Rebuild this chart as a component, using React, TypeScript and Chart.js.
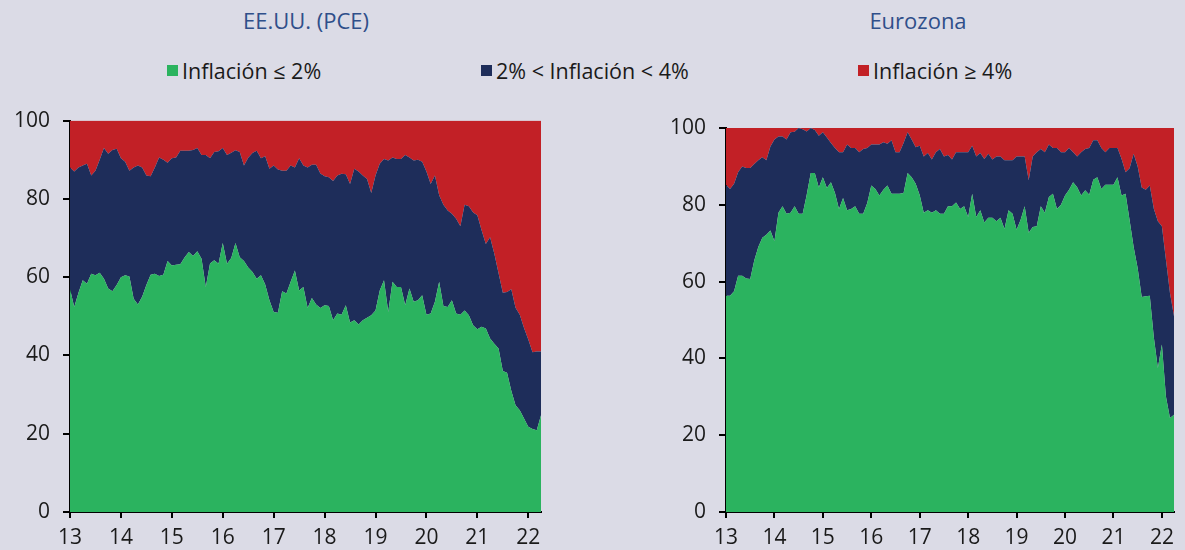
import React, { useEffect, useRef } from "react";
import { Chart, registerables } from "chart.js";

Chart.register(...registerables);

const FONT = "'Open Sans', 'Noto Sans', sans-serif";
const BG = "#dbdbe6";
const GREEN = "#2bb35f";
const NAVY = "#1e2d5a";
const RED = "#c22026";
const TITLE_COLOR = "#2f4f8a";
const TEXT_COLOR = "#1a1a1a";

// Monthly data, Jan 2013 .. Apr 2022 (x = two-digit year + month/12)
const startYear = 13;
const yearTicks = [13, 14, 15, 16, 17, 18, 19, 20, 21, 22];
const valueTicks = [0, 20, 40, 60, 80, 100];

const seriesNames = ["Inflación ≤ 2%", "2% < Inflación < 4%", "Inflación ≥ 4%"];
const chartTitles = ["EE.UU. (PCE)", "Eurozona"];

// % of components with inflation <= 2% (cumulative boundary)
const usUpTo2 = [
  57, 52.4, 56, 59.2, 58.3, 60.9, 60.5, 61.1, 59.6, 57.1,
  56.4, 58, 60, 60.5, 60.2, 54.5, 53, 55, 58, 60.6,
  60.9, 60.3, 60.6, 64.1, 63, 63.2, 63.3, 65, 66.4, 65.4,
  66.6, 64.7, 57.5, 63.5, 64.3, 63.4, 68.7, 63.4, 64.9, 68.7,
  65.1, 64.1, 62.5, 61.3, 59.6, 60.5, 58.1, 54.1, 51.1, 50.9,
  56.4, 55.8, 58.8, 61.7, 56.6, 57.5, 52.1, 54.7, 53, 52.1,
  52.8, 52.6, 49, 50.7, 50.4, 52.8, 48.4, 49, 47.9, 49,
  49.6, 50.3, 51.5, 56.6, 59.2, 51.1, 58.8, 57.5, 57.5, 52.8,
  57.1, 53.7, 54.1, 55.4, 50.4, 50.7, 53.7, 58.8, 52.6, 52.4,
  54.1, 50.7, 50.4, 51.5, 50.3, 47.7, 46.7, 47.3, 46.9, 44.3,
  43, 41.8, 36, 35.6, 31, 27.3, 26, 23.9, 21.8, 21.2, 20.9, 24.7,
];
// % of components with inflation < 4% (cumulative boundary)
const usUpTo4 = [
  88, 87, 88, 88.5, 89, 86, 87.2, 90, 93, 91.5,
  92.5, 92.8, 90.4, 89.5, 87.2, 88, 88.5, 88, 86, 85.8,
  88, 90.6, 90, 89.2, 90.4, 90.6, 92.3, 92.3, 92.3, 92.5,
  93, 91.2, 91.2, 90.4, 92, 92.2, 93, 91.2, 91.8, 92.4,
  92, 88.5, 90.5, 91.7, 92.3, 90.4, 90.9, 87.7, 88.5, 87.5,
  87.2, 87.2, 88.5, 88, 90.4, 88.5, 88, 88.7, 88.7, 86.5,
  85.8, 85.5, 84.6, 86, 86.4, 86.3, 83.8, 87.7, 87, 86,
  85.1, 81.5, 86, 89, 90.2, 89.8, 90.6, 90.2, 90.2, 91.2,
  90.6, 89.8, 90, 89.5, 87, 83.8, 86, 80.9, 78.5, 77,
  76.2, 74.9, 73, 78.5, 78.1, 76.5, 75.8, 72, 68.5, 70.2,
  66, 61, 56, 56.2, 56.9, 52.2, 50.4, 47, 44.1, 40.8, 41, 41,
];
const ezUpTo2 = [
  56.3, 56.3, 57.5, 61.5, 61.5, 60.8, 60.7, 65.5, 69, 71.4,
  72.2, 73.3, 70.5, 77.9, 79.6, 77.7, 77.9, 79.6, 77.7, 77.7,
  82.6, 88.3, 88.3, 84.5, 87.2, 84.4, 85.9, 83.1, 78.9, 81.8,
  78.6, 78.9, 79.6, 77.7, 77.7, 80.5, 85, 84.1, 82.4, 83.9,
  85, 82.9, 82.9, 82.9, 83.1, 88.3, 87.2, 85.5, 82.5, 77.9,
  78.6, 77.9, 78.6, 77.7, 77.7, 79.6, 79.6, 80.6, 78.9, 79.6,
  76.8, 82.9, 76.8, 78.6, 75.4, 76.6, 76.6, 75.7, 76.6, 73.7,
  78.6, 77.7, 73.5, 76.1, 79.6, 72.7, 74.2, 74.4, 79.6, 77.9,
  82, 82.9, 78.9, 80, 82.4, 83.9, 85.9, 84.6, 82.4, 83.8,
  82.6, 86.5, 87.2, 84.1, 85.2, 85.2, 85.2, 87.2, 82.4, 82.9,
  76, 69, 63.5, 56, 56.2, 56.3, 45.5, 37.5, 43.6, 30.1, 24.5, 25.3,
];
const ezUpTo4 = [
  85.2, 84.1, 85.5, 88.5, 90, 89.6, 89.6, 90.6, 91.6, 92.4,
  91.6, 95.2, 97, 97.8, 97.8, 97, 98.9, 99, 100, 99.7,
  99.1, 100, 99.5, 98, 98.9, 97.5, 96.1, 94.8, 93.7, 93.7,
  95.7, 94.8, 94.8, 93.7, 94.5, 94.8, 95.7, 95.7, 95.7, 96.3,
  95.9, 96.8, 93.7, 93.7, 96.1, 98.9, 97, 95, 95.4, 92.6,
  93.5, 91.8, 93.7, 94.5, 92.6, 93, 91.8, 93.7, 93.7, 93.7,
  93.7, 95.4, 92.6, 93.5, 91.9, 93.3, 91.8, 92.6, 92.6, 91.6,
  91.6, 91.6, 92.6, 92.6, 92.6, 86.4, 92.6, 93.7, 94.5, 93.7,
  95.7, 94.8, 94.8, 93.7, 93.7, 94.8, 93.7, 92.6, 93.7, 94.5,
  94.8, 96.8, 96.8, 94.8, 93.7, 94.8, 94.8, 94.8, 92, 88.5,
  89.5, 93.3, 90, 84.5, 83.9, 85, 79, 75.7, 74.4, 65.7, 57, 51,
];

type PanelProps = {
  left: number;
  top: number;
  width: number;
  height: number;
  yAxisWidth: number;
  padTop: number;
  padRight: number;
  upTo2: number[];
  upTo4: number[];
};

function AreaPanel(p: PanelProps) {
  const ref = useRef<HTMLCanvasElement>(null);
  useEffect(() => {
    const xs = p.upTo2.map((_, i) => startYear + i / 12);
    const pts = (arr: number[]) => arr.map((v, i) => ({ x: xs[i], y: v }));
    const common = { borderWidth: 0, pointRadius: 0, tension: 0 };
    const tickFont = { family: FONT, size: 21 };
    const chart = new Chart(ref.current as HTMLCanvasElement, {
      type: "line",
      data: {
        datasets: [
          { label: seriesNames[0], data: pts(p.upTo2), fill: "origin", backgroundColor: GREEN, borderColor: GREEN, ...common },
          { label: seriesNames[1], data: pts(p.upTo4), fill: 0, backgroundColor: NAVY, borderColor: NAVY, ...common },
          { label: seriesNames[2], data: pts(p.upTo4), fill: "end", backgroundColor: RED, borderColor: RED, ...common },
        ],
      },
      options: {
        animation: false,
        responsive: false,
        events: [],
        layout: { padding: { top: p.padTop, right: p.padRight, left: 0, bottom: 0 } },
        plugins: { legend: { display: false }, title: { display: false }, tooltip: { enabled: false } },
        scales: {
          x: {
            type: "linear",
            min: yearTicks[0],
            max: xs[xs.length - 1],
            afterFit: (s: any) => { s.height = 38; },
            afterBuildTicks: (s: any) => { s.ticks = yearTicks.map((v) => ({ value: v })); },
            ticks: { font: tickFont, color: TEXT_COLOR, padding: 7, maxRotation: 0, autoSkip: false, callback: (v: any) => String(v) },
            grid: { display: true, drawOnChartArea: false, drawTicks: true, tickLength: 6, color: "#000", lineWidth: 2 },
            border: { display: true, color: "#000", width: 2 },
          },
          y: {
            min: 0,
            max: 100,
            afterFit: (s: any) => { s.width = p.yAxisWidth; },
            afterBuildTicks: (s: any) => { s.ticks = valueTicks.map((v) => ({ value: v })); },
            ticks: { font: tickFont, color: TEXT_COLOR, padding: 13, callback: (v: any) => String(v) },
            grid: { display: true, drawOnChartArea: false, drawTicks: true, tickLength: 7, color: "#000", lineWidth: 2 },
            border: { display: true, color: "#000", width: 2 },
          },
        },
      } as any,
    });
    return () => chart.destroy();
  }, []);
  return (
    <canvas
      ref={ref}
      width={p.width}
      height={p.height}
      style={{ position: "absolute", left: p.left, top: p.top, width: p.width, height: p.height }}
    />
  );
}

const legendColors = [GREEN, NAVY, RED];
const legendBoxLeft = [167, 481, 858];

export default function App() {
  const titleStyle = (center: number): React.CSSProperties => ({
    position: "absolute",
    left: center - 200,
    width: 400,
    top: 6,
    textAlign: "center",
    fontFamily: FONT,
    fontSize: 22,
    lineHeight: "28px",
    color: TITLE_COLOR,
  });
  return (
    <div style={{ position: "absolute", left: 0, top: 0, width: 1185, height: 550, background: BG, overflow: "hidden" }}>
      <div style={titleStyle(306)}>{chartTitles[0]}</div>
      <div style={titleStyle(918)}>{chartTitles[1]}</div>
      {seriesNames.map((name, i) => (
        <div
          key={name}
          style={{
            position: "absolute",
            left: legendBoxLeft[i],
            top: 56,
            height: 28,
            display: "flex",
            alignItems: "center",
            fontFamily: FONT,
            fontSize: 21.5,
            color: TEXT_COLOR,
            whiteSpace: "nowrap",
          }}
        >
          <span style={{ display: "inline-block", width: 11, height: 11, background: legendColors[i], marginRight: 4 }} />
          <span>{name}</span>
        </div>
      ))}
      <AreaPanel left={0} top={95} width={600} height={455} yAxisWidth={70} padTop={25} padRight={59} upTo2={usUpTo2} upTo4={usUpTo4} />
      <AreaPanel left={600} top={95} width={585} height={455} yAxisWidth={126} padTop={33} padRight={11} upTo2={ezUpTo2} upTo4={ezUpTo4} />
    </div>
  );
}
